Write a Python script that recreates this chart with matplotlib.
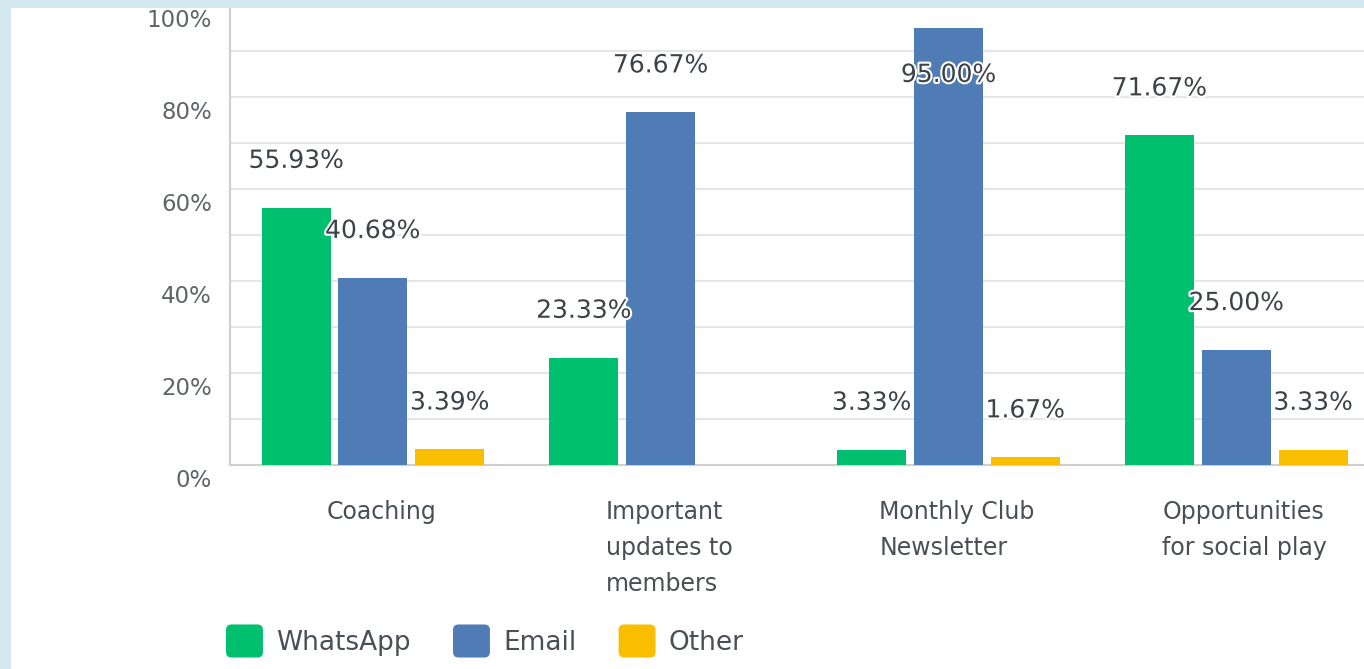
import matplotlib
matplotlib.use("Agg")
import matplotlib.pyplot as plt
import matplotlib.patheffects as pe
from matplotlib.patches import Rectangle, Patch, FancyBboxPatch
from matplotlib.legend_handler import HandlerPatch
from matplotlib.transforms import ScaledTranslation
import numpy as np

categories = ["Coaching", "Important\nupdates to\nmembers", "Monthly Club\nNewsletter", "Opportunities\nfor social play"]
series_names = ["WhatsApp", "Email", "Other"]
whatsapp = [55.93, 23.33, 3.33, 71.67]
email = [40.68, 76.67, 95.00, 25.00]
other = [3.39, 0.00, 1.67, 3.33]
yticks = [0, 20, 40, 60, 80, 100]

colors = ["#00bf6f", "#507cb6", "#f9be00"]
text_dark = "#3d4248"


class RoundBox(HandlerPatch):
    # legend swatches with rounded corners
    def create_artists(self, legend, orig_handle, xdescent, ydescent, width, height, fontsize, trans):
        p = FancyBboxPatch((-xdescent, -ydescent), width, height,
                           boxstyle="round,pad=0,rounding_size=4",
                           facecolor=orig_handle.get_facecolor(), edgecolor="none", transform=trans)
        return [p]


W, H = 1364, 669
fig = plt.figure(figsize=(W / 100, H / 100), dpi=100)
fig.patch.set_facecolor("white")
ax = fig.add_axes([230 / W, (H - 465) / H, (W - 230) / W, 460 / H])

x = np.arange(len(categories))
bw = 0.24
step = 0.267
label_off = 10.2
for i, (name, vals) in enumerate(zip(series_names, [whatsapp, email, other])):
    xs = x + (i - 1) * step
    ax.bar(xs, vals, width=bw, color=colors[i], zorder=3, label=name)
    for xi, v in zip(xs, vals):
        if v <= 0:
            continue
        ly = v + label_off if v + label_off < 95 else v - label_off
        ax.text(xi, ly, f"{v:.2f}%", ha="center", va="center", fontsize=18,
                color=text_dark, zorder=5,
                path_effects=[pe.withStroke(linewidth=3, foreground="white")])

ax.set_xlim(-0.4965, 3.444)
ax.set_ylim(0, 100)

ax.set_yticks(np.arange(0, 101, 10), minor=True)
ax.set_yticks(yticks)
ax.set_yticklabels([f"{t}%" for t in yticks], fontsize=16.5, color="#606468")
ax.grid(axis="y", which="both", color="#e6e6e6", linewidth=1.5, zorder=0)
ax.tick_params(axis="y", which="both", length=0, pad=13)
for lab in ax.get_yticklabels():
    lab.set_transform(lab.get_transform() + ScaledTranslation(0, -0.13, fig.dpi_scale_trans))

ax.set_xticks(x + 0.03)
ax.set_xticklabels(categories, fontsize=17, color="#4a4f55", linespacing=1.65,
                   multialignment="left", va="top")
ax.tick_params(axis="x", length=0, pad=25)

for s in ["top", "right"]:
    ax.spines[s].set_visible(False)
ax.spines["left"].set_color("#cfcfcf")
ax.spines["bottom"].set_color("#cfcfcf")
ax.spines["left"].set_linewidth(1.5)
ax.spines["bottom"].set_linewidth(1.5)

handles = [Patch(facecolor=c) for c in colors]
fig.legend(handles, series_names, loc="center left", bbox_to_anchor=(226 / W, 28 / H),
           frameon=False, fontsize=19, handlelength=1.4, handleheight=1.55,
           handletextpad=0.5, columnspacing=1.6, ncol=3, borderpad=0, borderaxespad=0,
           labelcolor="#4a4f55", handler_map={Patch: RoundBox()})

# light blue frame of the screenshot
fig.add_artist(Rectangle((0, 1 - 8 / H), 1, 8 / H, transform=fig.transFigure,
                         facecolor="#d3e9ef", edgecolor="none", zorder=10))
fig.add_artist(Rectangle((0, 0), 11 / W, 1, transform=fig.transFigure,
                         facecolor="#d3e9ef", edgecolor="none", zorder=10))

fig.savefig("out.png", dpi=100)
